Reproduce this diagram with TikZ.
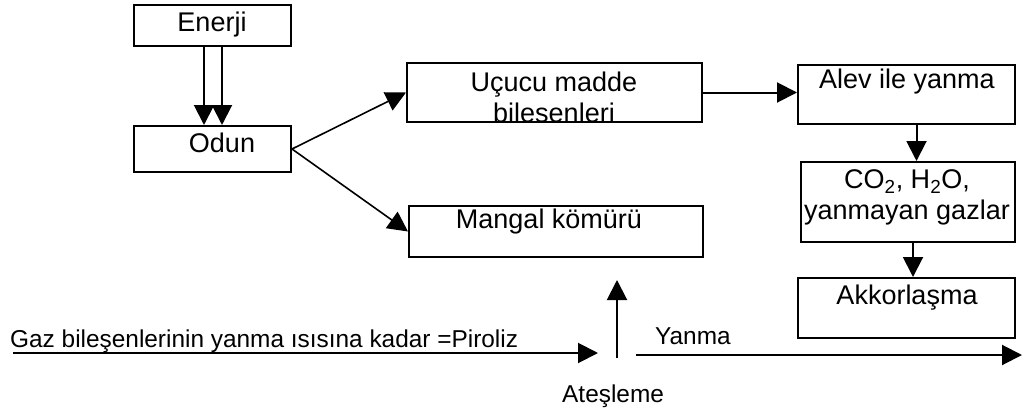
\documentclass[tikz,border=0pt]{standalone}
\usepackage{fontspec}
\setmainfont{Liberation Sans}
\usetikzlibrary{arrows.meta}
\begin{document}
\begin{tikzpicture}[x=1pt,y=-1pt,
  box/.style={draw=black,line width=2pt,inner sep=0pt,rectangle},
  boxtext/.style={inner sep=0pt,font=\fontsize{27}{31}\selectfont,align=center},
  smalltext/.style={inner sep=0pt,font=\fontsize{24.4}{29}\selectfont},
  arr/.style={line width=2pt,-{Triangle[length=20pt,width=20pt]}},
  thinarr/.style={line width=1.6pt,-{Triangle[length=20pt,width=20pt]}}]
\useasboundingbox[fill=white] (0,0) rectangle (1022,412);
% boxes
\node[box,minimum width=157pt,minimum height=41pt] (enerji) at (212.5,25.5) {};
\node[box,minimum width=157pt,minimum height=46pt] (odun) at (212.5,149) {};
\node[box,minimum width=295pt,minimum height=59pt] (ucucu) at (554.5,92.5) {};
\node[box,minimum width=294pt,minimum height=51pt] (mangal) at (556,231.5) {};
\node[box,minimum width=217pt,minimum height=59pt] (alev) at (906.5,94.5) {};
\node[box,minimum width=214pt,minimum height=80pt] (co2) at (908,202) {};
\node[box,minimum width=217pt,minimum height=60pt] (akkor) at (906.5,308) {};
% texts
\node[boxtext] (tenerji) at (212,25) {Enerji};
\node[boxtext] (todun) at (222,143) {Odun};
\node[boxtext] (tucucu) at (554,97) {Uçucu madde\\bilesenleri};
\node[boxtext] (tmangal) at (549,222) {Mangal kömürü};
\node[boxtext] (talev) at (907,82) {Alev ile yanma};
\node[boxtext] (tco2) at (907,197.5) {CO\textsubscript{2}, H\textsubscript{2}O,\\yanmayan gazlar};
\node[boxtext] (takkor) at (907,298) {Akkorlaşma};
\node[smalltext,anchor=base west] (tpiroliz) at (10,347) {Gaz bileşenlerinin yanma ısısına kadar =Piroliz};
\node[smalltext,anchor=base west] (tyanma) at (655,344) {Yanma};
\node[smalltext,anchor=base west] (tatesleme) at (562,402) {Ateşleme};
% connectors
\draw[arr] ([xshift=-8.5pt]enerji.south) -- ([xshift=-8.5pt]odun.north);
\draw[arr] ([xshift=9.5pt]enerji.south) -- ([xshift=9.5pt]odun.north);
\draw[thinarr] (odun.east) -- (ucucu.west);
\draw[thinarr] (odun.east) -- (mangal.west);
\draw[arr] (ucucu.east) -- (ucucu.east -| alev.west);
\draw[arr] ([xshift=10pt]alev.south) -- ([xshift=10pt]alev.south |- co2.north);
\draw[arr] ([xshift=5pt]co2.south) -- ([xshift=5pt]co2.south |- akkor.north);
% bottom line
\coordinate (pstart) at (13,353);
\coordinate (pend) at (598,353);
\coordinate (istart) at (617,358);
\coordinate (iend) at (617,280);
\coordinate (ystart) at (636,355);
\coordinate (yend) at (1022,355);
\draw[arr] (pstart) -- (pend);
\draw[arr] (istart) -- (iend);
\draw[arr] (ystart) -- (yend);
\end{tikzpicture}
\end{document}
